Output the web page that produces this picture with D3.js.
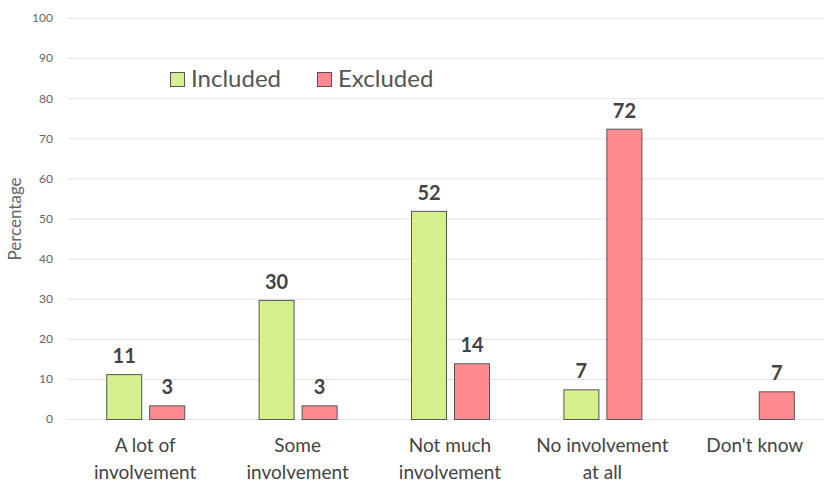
<!DOCTYPE html>
<html>
<head>
<meta charset="utf-8">
<script src="https://cdn.jsdelivr.net/npm/d3@7"></script>
<style>
html,body{margin:0;padding:0;background:#fff;}
svg{display:block;font-family:Lato, "Open Sans", sans-serif;}
</style>
</head>
<body>
<svg id="chart" width="824" height="482"></svg>
<script>
const categories = [["A lot of","involvement"],["Some","involvement"],["Not much","involvement"],["No involvement","at all"],["Don't know"]];
const seriesNames = ["Included","Excluded"];
const included = [11.2, 29.7, 51.9, 7.4, null];
const excluded = [3.4, 3.4, 13.9, 72.4, 6.9];
const yTicks = [0,10,20,30,40,50,60,70,80,90,100];
const colors = ["#d4ef8c","#ff8a8f"];

const svg = d3.select("#chart");
const x = d3.scaleBand().domain(d3.range(categories.length)).range([69, 831]).paddingInner(0).paddingOuter(0);
const y = d3.scaleLinear().domain([0,100]).range([419, 18]);
const barW = 35, gap = 8;

// gridlines
svg.append("g").selectAll("line").data(yTicks).join("line")
  .attr("x1", 68).attr("x2", 824)
  .attr("y1", d => y(d)+0.5).attr("y2", d => y(d)+0.5)
  .attr("stroke", "#e4e4e4").attr("stroke-width", 1);

// y axis labels
const yAxis = d3.axisLeft(y).tickValues(yTicks).tickSize(0).tickPadding(0);
const ga = svg.append("g").attr("transform", "translate(53,0)").call(yAxis);
ga.select(".domain").remove();
ga.selectAll("text").attr("fill", "#666").style("font-size", "12px").style("font-family", "Lato, sans-serif");

svg.append("text").attr("transform", "translate(21,219) rotate(-90)")
  .attr("text-anchor", "middle").attr("fill", "#666").style("font-size", "17px").text("Percentage");

const series = [included, excluded];
series.forEach((vals, si) => {
  const off = si === 0 ? -gap/2 - barW : gap/2;
  const data = vals.map((v, i) => ({v, i})).filter(d => d.v != null);
  svg.append("g").selectAll("rect").data(data).join("rect")
    .attr("x", d => x(d.i) + x.bandwidth()/2 + off + 0.5)
    .attr("y", d => y(d.v) + 0.5)
    .attr("width", barW)
    .attr("height", d => y(0) - y(d.v))
    .attr("fill", colors[si]).attr("stroke", "#555").attr("stroke-width", 1);
  svg.append("g").selectAll("text").data(data).join("text")
    .attr("x", d => x(d.i) + x.bandwidth()/2 + off + barW/2 + 0.5)
    .attr("y", d => y(d.v) - 11)
    .attr("text-anchor", "middle").attr("fill", "#444")
    .style("font-size", "20px").style("font-weight", "bold")
    .text(d => d3.format(".0f")(d.v));
});

// x labels
const xl = svg.append("g").selectAll("text").data(categories).join("text")
  .attr("x", (d,i) => x(i) + x.bandwidth()/2)
  .attr("y", 452).attr("text-anchor", "middle").attr("fill", "#444")
  .style("font-size", "19px");
xl.selectAll("tspan").data(d => d).join("tspan")
  .attr("x", function(){ return d3.select(this.parentNode).attr("x"); })
  .attr("dy", (d,j) => j === 0 ? 0 : 27).text(d => d);

// legend
const leg = svg.append("g");
const legX = [170, 317];
seriesNames.forEach((n, i) => {
  leg.append("rect").attr("x", legX[i]+0.5).attr("y", 72.5).attr("width", 14).attr("height", 14)
    .attr("fill", colors[i]).attr("stroke", "#555");
  leg.append("text").attr("x", legX[i] + 21).attr("y", 87).attr("fill", "#555")
    .style("font-size", "24px").text(n);
});
</script>
</body>
</html>
